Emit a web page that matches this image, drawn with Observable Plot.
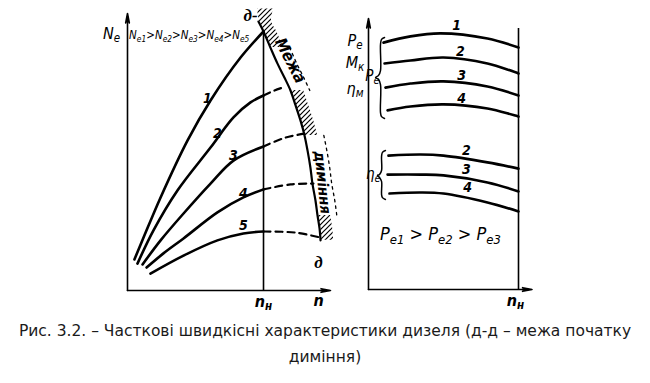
<!DOCTYPE html>
<html><head><meta charset="utf-8">
<script src="https://cdn.jsdelivr.net/npm/d3@7"></script>
<script src="https://cdn.jsdelivr.net/npm/@observablehq/plot@0.6"></script>
<style>
body{margin:0;background:#fff;}
#wrap{position:relative;width:650px;height:383px;overflow:hidden;background:#fff;}
#left{position:absolute;left:0;top:0;}
#right{position:absolute;left:340px;top:0;}
#cap{position:absolute;left:0;top:318px;width:650px;text-align:center;font-family:"DejaVu Sans",sans-serif;font-size:15.5px;line-height:26px;color:#1a1a1a;}
</style></head>
<body><div id="wrap"><div id="left"></div><div id="right"></div>
<div id="cap">Рис. 3.2. – Часткові швидкісні характеристики дизеля (д-д – межа початку<br>диміння)</div></div>
<script>
// ---------- LEFT PANEL DATA (schematic units 0..100) ----------
const nH = 67;
const ne1 = [[3.4,11.2],[7.9,19.1],[16.3,33.6],[29.6,54.2],[40.9,68.6],[55.7,84.1],[67.0,93.5]];
const ne2 = [[4.9,9.7],[12.8,21.7],[24.6,36.1],[40.9,51.6],[52.2,62.5],[60.6,67.9],[67.0,70.4]];
const ne3 = [[7.4,9.4],[16.3,18.1],[27.6,27.8],[40.9,38.6],[52.2,46.9],[67.0,52.0]];
const ne4 = [[9.4,8.3],[17.7,13.4],[27.6,18.8],[44.3,28.2],[57.1,33.6],[67.0,36.5]];
const ne5 = [[11.3,6.1],[27.6,12.6],[44.3,18.1],[57.1,20.6],[67.0,21.3]];
const ne2Dash = [[67.0,70.4],[72.4,72.2],[77.8,73.6]];
const ne3Dash = [[67.0,52.0],[77.8,55.2],[87.7,56.7]];
const ne4Dash = [[67.0,36.5],[80.3,38.3],[91.6,38.6]];
const ne5Dash = [[67.0,21.3],[82.8,20.9],[95.1,19.1]];
const smokeLimit = [[64.5,97.1],[67.0,93.5],[70.4,87.7],[73.9,81.9],[77.3,76.9],[80.3,72.2],[82.8,66.8],[85.2,61.4],[87.2,56.0],[88.7,50.5],[90.1,44.4],[91.1,38.6],[92.6,32.5],[93.6,27.1],[94.6,22.4],[95.1,18.1]];
const hatchSegments = [[0,2],[5,8],[13,15]];
const dotSegments = [[2,5],[8,13]];
const leftCurveLabels = ["1","2","3","4","5"];
const leftCurveLabelX = [39.4,44.3,52.2,57.1,57.1];
const leftCurveLabelY = [69.3,56.7,48.7,35.0,23.5];

// ---------- RIGHT PANEL DATA ----------
const pe1 = [[10,91.1],[28,93.4],[48,94.5],[79.3,92.6],[100,89.3]];
const pe2 = [[10.7,83.4],[28,84.5],[50,85.6],[79.3,83.4],[100,79.7]];
const pe3 = [[11.3,74.5],[28,76.0],[50,76.8],[79.3,74.9],[100,71.6]];
const pe4 = [[12.7,66.1],[28,67.5],[50,68.3],[79.3,66.8],[100,63.8]];
const eta2 = [[13.3,49.4],[34.7,49.8],[50,49.4],[79.3,46.9],[100,44.6]];
const eta3 = [[12.7,42.4],[34.7,42.4],[50,42.1],[79.3,39.5],[100,36.2]];
const eta4 = [[14,35.4],[34.7,35.8],[50,35.4],[79.3,32.1],[100,28.8]];
const braceUpper = [[10.7,93.0],[8.7,92.3],[8,90.4],[8,80.8],[6.7,79.0],[4.7,78.2],[6.7,77.5],[8,75.6],[8,65.3],[8.7,63.8],[10.7,63.1]];
const braceLower = [[11.3,51.3],[9.3,50.6],[8.7,49.1],[8.7,43.9],[7.3,42.4],[6,42.1],[7.3,41.3],[8.7,39.9],[8.7,35.1],[9.3,33.9],[11.3,33.2]];
const rightLabels = ["1","2","3","4","2","3","4"];
const rightLabelX = [58.7,61.3,62,62,65.3,65.3,66];
const rightLabelY = [97.4,87.8,79,70.5,51.3,44.3,37.6];
const sideLabels = ["P_{e}","M_{к}","η_{м}"];
const sideLabelY = [91.9,83.8,74.2];

// ---------- helpers ----------
const tbl = (id, pts) => pts.map(([x,y]) => ({id, x, y}));
const hand = "DejaVu Sans Condensed, DejaVu Sans, sans-serif";
const serifIt = "Liberation Serif, serif";
function subify(svg){
  svg.querySelectorAll("text").forEach(t => {
    const g = t.closest("[font-size]");
    const fs = g ? parseFloat(g.getAttribute("font-size")) : 12;
    const els = t.querySelectorAll("tspan").length ? [...t.querySelectorAll("tspan")] : [t];
    els.forEach(el => {
      const s = el.textContent;
      if (!s.includes("_{")) return;
      el.textContent = "";
      let down = false;
      s.split(/(_\{[^}]*\})/).forEach(p => {
        if (!p) return;
        const ts = document.createElementNS("http://www.w3.org/2000/svg","tspan");
        if (p.startsWith("_{")) {
          ts.textContent = p.slice(2,-1); ts.setAttribute("font-size", (0.72*fs).toFixed(1));
          if (!down) { ts.setAttribute("dy", (0.2*fs).toFixed(1)); down = true; }
        } else {
          ts.textContent = p;
          if (down) { ts.setAttribute("dy", (-0.2*fs).toFixed(1)); down = false; }
        }
        el.appendChild(ts);
      });
    });
  });
}
function addHatch(svg){
  const ns = "http://www.w3.org/2000/svg";
  const defs = document.createElementNS(ns,"defs");
  defs.innerHTML = '<pattern id="hatch" patternUnits="userSpaceOnUse" width="5" height="5"><path d="M0,5 L5,0 M-1,1 L1,-1 M4,6 L6,4" stroke="#000" stroke-width="1.2"/></pattern>';
  svg.insertBefore(defs, svg.firstChild);
}

// ---------- LEFT PLOT ----------
const solid = [...tbl("1",ne1),...tbl("2",ne2),...tbl("3",ne3),...tbl("4",ne4),...tbl("5",ne5)];
const dashed = [...tbl("2",ne2Dash),...tbl("3",ne3Dash),...tbl("4",ne4Dash),...tbl("5",ne5Dash)];
const limit = tbl("g", smokeLimit);
const bandW = 6.5;
const hatchData = hatchSegments.flatMap(([a,b],i) => {
  const rows = smokeLimit.slice(a,b+1).map(([x,y]) => ({id:i, x1:x+0.6, x2:x+bandW, y}));
  if (i === 0) rows.unshift({id:i, x1:rows[0].x1-1, x2:rows[0].x2+1, y:rows[0].y+4.5});
  return rows;
});
const dotData = dotSegments.flatMap(([a,b],i) => smokeLimit.slice(a,b+1).map(([x,y]) => ({id:i, x:x+9.5, y})));
const leftNums = leftCurveLabels.map((t,i) => ({t, x:leftCurveLabelX[i], y:leftCurveLabelY[i]}));

const leftPlot = Plot.plot({
  width:340, height:305, marginLeft:127, marginRight:10, marginTop:13, marginBottom:15,
  x:{domain:[0,100], axis:null}, y:{domain:[0,100], axis:null},
  style:{overflow:"visible", background:"transparent"},
  marks:[
    Plot.areaX(hatchData, {x1:"x1", x2:"x2", y:"y", z:"id", fill:"url(#hatch)", curve:"catmull-rom"}),
    Plot.line(dotData, {x:"x", y:"y", z:"id", stroke:"#000", strokeWidth:1.3, strokeDasharray:"2.5,4", curve:"catmull-rom"}),
    Plot.arrow([{x1:0,y1:0,x2:0,y2:100},{x1:0,y1:0,x2:100,y2:0}], {x1:"x1",y1:"y1",x2:"x2",y2:"y2", stroke:"#000", strokeWidth:1.6, headLength:9, headAngle:22}),
    Plot.ruleX([nH], {y1:0, y2:ne1[ne1.length-1][1], stroke:"#000", strokeWidth:1.6}),
    Plot.line(solid, {x:"x", y:"y", z:"id", stroke:"#000", strokeWidth:2.6, curve:"catmull-rom"}),
    Plot.line(dashed, {x:"x", y:"y", z:"id", stroke:"#000", strokeWidth:2.2, strokeDasharray:"7,5", curve:"catmull-rom"}),
    Plot.line(limit, {x:"x", y:"y", stroke:"#000", strokeWidth:2.2, curve:"catmull-rom"}),
    Plot.text(leftNums, {x:"x", y:"y", text:"t", fontFamily:hand, fontStyle:"italic", fontWeight:"bold", fontSize:14, fill:"#000"}),
    Plot.text(["Межа"], {x:80.2, y:83.0, rotate:63, fontFamily:hand, fontStyle:"italic", fontWeight:"bold", fontSize:16, fill:"#000"}),
    Plot.text(["диміння"], {x:96.0, y:39.0, rotate:84, fontFamily:hand, fontStyle:"italic", fontWeight:"bold", fontSize:15, fill:"#000"}),
    Plot.text(["N_{e}"], {x:-3.6, y:92.8, textAnchor:"end", fontFamily:hand, fontStyle:"italic", fontSize:16, fill:"#000"}),
    Plot.text(["N_{e1}>N_{e2}>N_{e3}>N_{e4}>N_{e5}"], {x:0.8, y:92.0, textAnchor:"start", fontFamily:hand, fontStyle:"italic", fontSize:11.5, fill:"#000"}),
    Plot.text(["д-"], {x:60.6, y:99.3, fontFamily:serifIt, fontStyle:"italic", fontWeight:"bold", fontSize:17, fill:"#000"}),
    Plot.text(["д"], {x:94.1, y:10.1, fontFamily:serifIt, fontStyle:"italic", fontWeight:"bold", fontSize:17, fill:"#000"}),
    Plot.text(["n_{н}"], {x:nH, y:-4, fontFamily:hand, fontStyle:"italic", fontWeight:"bold", fontSize:16, fill:"#000"}),
    Plot.text(["n"], {x:94.1, y:-3.6, fontFamily:hand, fontStyle:"italic", fontWeight:"bold", fontSize:16, fill:"#000"})
  ]
});
addHatch(leftPlot); subify(leftPlot);
document.getElementById("left").appendChild(leftPlot);

// ---------- RIGHT PLOT ----------
const peData = [...tbl("1",pe1),...tbl("2",pe2),...tbl("3",pe3),...tbl("4",pe4)];
const etaData = [...tbl("2",eta2),...tbl("3",eta3),...tbl("4",eta4)];
const braces = [...tbl("u",braceUpper),...tbl("l",braceLower)];
const rightNums = rightLabels.map((t,i) => ({t, x:rightLabelX[i], y:rightLabelY[i]}));
const sides = sideLabels.map((t,i) => ({t, y:sideLabelY[i]}));

const rightPlot = Plot.plot({
  width:200, height:305, marginLeft:28, marginRight:22, marginTop:18, marginBottom:16,
  x:{domain:[0,100], axis:null}, y:{domain:[0,100], axis:null},
  style:{overflow:"visible", background:"transparent"},
  marks:[
    Plot.arrow([{x1:0,y1:0,x2:0,y2:100},{x1:0,y1:0,x2:109,y2:0}], {x1:"x1",y1:"y1",x2:"x2",y2:"y2", stroke:"#000", strokeWidth:1.6, headLength:9, headAngle:22}),
    Plot.ruleX([100], {y1:0, y2:96.3, stroke:"#000", strokeWidth:1.6}),
    Plot.line(peData, {x:"x", y:"y", z:"id", stroke:"#000", strokeWidth:2.6, curve:"catmull-rom"}),
    Plot.line(etaData, {x:"x", y:"y", z:"id", stroke:"#000", strokeWidth:2.6, curve:"catmull-rom"}),
    Plot.line(braces, {x:"x", y:"y", z:"id", stroke:"#000", strokeWidth:1.5, curve:"catmull-rom"}),
    Plot.text(rightNums, {x:"x", y:"y", text:"t", fontFamily:hand, fontStyle:"italic", fontWeight:"bold", fontSize:14, fill:"#000"}),
    Plot.text(sides, {x:-9, y:"y", text:"t", fontFamily:hand, fontStyle:"italic", fontSize:16, fill:"#000"}),
    Plot.text(["P_{e}"], {x:2.6, y:78.6, fontFamily:hand, fontStyle:"italic", fontSize:15, fill:"#000"}),
    Plot.text(["η_{e}"], {x:3.2, y:42.4, fontFamily:hand, fontStyle:"italic", fontSize:15, fill:"#000"}),
    Plot.text(["P_{e1} > P_{e2} > P_{e3}"], {x:48, y:20.3, fontFamily:hand, fontStyle:"italic", fontSize:18, fill:"#000"}),
    Plot.text(["n_{н}"], {x:98, y:-4.1, fontFamily:hand, fontStyle:"italic", fontWeight:"bold", fontSize:16, fill:"#000"})
  ]
});
subify(rightPlot);
document.getElementById("right").appendChild(rightPlot);
</script></body></html>
